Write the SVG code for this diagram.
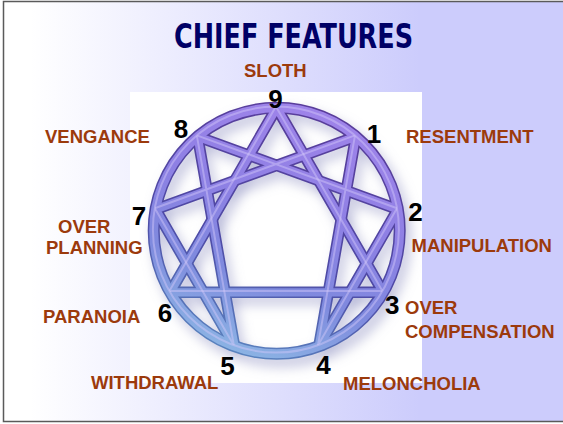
<svg xmlns="http://www.w3.org/2000/svg" width="563" height="424" viewBox="0 0 563 424">
<defs>
<linearGradient id="bg" gradientUnits="userSpaceOnUse" x1="30" y1="0" x2="420" y2="0">
<stop offset="0" stop-color="#FFFFFF"/>
<stop offset="1" stop-color="#CCCCFC"/>
</linearGradient>
<linearGradient id="fig" gradientUnits="userSpaceOnUse" x1="330" y1="105" x2="240" y2="360">
<stop offset="0" stop-color="#A084EA"/>
<stop offset="0.4" stop-color="#8E80E4"/>
<stop offset="0.7" stop-color="#7F8ADE"/>
<stop offset="1" stop-color="#8CB6E4"/>
</linearGradient>
<linearGradient id="edge" gradientUnits="userSpaceOnUse" x1="330" y1="105" x2="240" y2="360">
<stop offset="0" stop-color="#5A3C9A"/>
<stop offset="0.6" stop-color="#4E4AA6"/>
<stop offset="1" stop-color="#5A86C0"/>
</linearGradient>
<filter id="blur" x="-20%" y="-20%" width="140%" height="140%">
<feGaussianBlur stdDeviation="6"/>
</filter>
<clipPath id="inside"><circle cx="276.7" cy="230.8" r="123"/></clipPath>
<circle id="ring" cx="276.7" cy="230.8" r="123"/>
<g id="lines">
<path d="M276.7,107.8 L383.2,292.3 L170.2,292.3 Z"/>
<path d="M355.8,136.6 L318.8,346.4 L397.8,209.4 L197.6,136.6 L234.6,346.4 L155.6,209.4 Z"/>
</g>
</defs>
<style>
.lbl{font-family:"Liberation Sans",Arial,sans-serif;font-weight:bold;font-size:18.5px;fill:#9C3A0C}
.num{font-family:"Liberation Sans",Arial,sans-serif;font-weight:bold;font-size:26px;fill:#000000;text-anchor:middle}
.title{font-family:"Liberation Sans Narrow","DejaVu Sans Condensed","Liberation Sans",sans-serif;font-weight:bold;font-size:34px;fill:#000066}
.lo{fill:none;stroke:url(#edge);stroke-width:11.5;stroke-linejoin:round}
.lb{fill:none;stroke:url(#fig);stroke-width:8.3;stroke-linejoin:round}
.ro{fill:none;stroke:url(#edge);stroke-width:12}
.rb{fill:none;stroke:url(#fig);stroke-width:9}
.hl{fill:none;stroke:#D4CAFA;stroke-width:2;stroke-opacity:0.45;stroke-linejoin:round}
</style>
<rect x="3.5" y="1.5" width="600" height="420" fill="url(#bg)" stroke="#5A5A5A" stroke-width="1.5"/>
<rect x="130" y="92" width="292" height="291" fill="#FFFFFF"/>
<g id="title">
<text class="title" x="174" y="48" textLength="239" lengthAdjust="spacingAndGlyphs">CHIEF FEATURES</text>
</g>
<g id="connectors">
<g fill="none" stroke="#9A9CC8" stroke-opacity="0.5" filter="url(#blur)" transform="translate(5,7)">
<use href="#ring" stroke-width="14"/>
<use href="#lines" stroke-width="12" clip-path="url(#inside)"/>
</g>
<use href="#lines" class="lo" clip-path="url(#inside)"/>
<use href="#ring" class="ro"/>
<use href="#lines" class="lb" clip-path="url(#inside)"/>
<use href="#ring" class="rb"/>
<g transform="translate(-0.8,-1.2)">
<use href="#lines" class="hl" clip-path="url(#inside)"/>
<use href="#ring" class="hl"/>
</g>
</g>
<g id="node9"><text class="num" x="275.5" y="108">9</text><text class="lbl" x="244" y="77">SLOTH</text></g>
<g id="node1"><text class="num" x="374" y="143">1</text><text class="lbl" x="406" y="143">RESENTMENT</text></g>
<g id="node2"><text class="num" x="415.5" y="221">2</text><text class="lbl" x="411.5" y="252">MANIPULATION</text></g>
<g id="node3"><text class="num" x="392.3" y="314">3</text><text class="lbl" x="405" y="314">OVER</text><text class="lbl" x="405" y="338">COMPENSATION</text></g>
<g id="node4"><text class="num" x="323.5" y="374">4</text><text class="lbl" x="343" y="390">MELONCHOLIA</text></g>
<g id="node5"><text class="num" x="227.5" y="375">5</text><text class="lbl" x="91" y="389">WITHDRAWAL</text></g>
<g id="node6"><text class="num" x="165" y="321.7">6</text><text class="lbl" x="43" y="323.3">PARANOIA</text></g>
<g id="node7"><text class="num" x="139" y="225">7</text><text class="lbl" x="58" y="232.7">OVER</text><text class="lbl" x="46" y="254">PLANNING</text></g>
<g id="node8"><text class="num" x="181" y="138.3">8</text><text class="lbl" x="45" y="143.3">VENGANCE</text></g>
</svg>
